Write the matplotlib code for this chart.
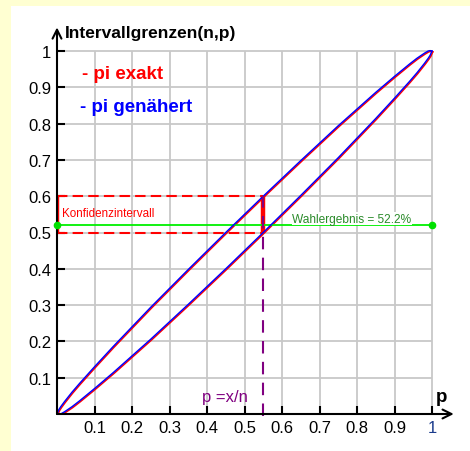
import matplotlib.pyplot as plt
import matplotlib.transforms as mtransforms

plt.rcParams['font.family'] = ['Liberation Sans', 'DejaVu Sans']

p_werte = [0, 0.005, 0.01, 0.02, 0.04, 0.06, 0.08, 0.1, 0.15, 0.2, 0.25, 0.3, 0.35,
           0.4, 0.45, 0.5, 0.55, 0.6, 0.65, 0.7, 0.75, 0.8, 0.85, 0.9, 0.92, 0.94,
           0.96, 0.98, 0.99, 0.995, 1]
grenze_oben = [0, 0.012, 0.020, 0.034, 0.060, 0.084, 0.107, 0.130, 0.186, 0.240, 0.294,
               0.346, 0.398, 0.449, 0.500, 0.550, 0.600, 0.649, 0.698, 0.746, 0.794,
               0.840, 0.886, 0.930, 0.947, 0.964, 0.980, 0.994, 1.000, 1.001, 1]
grenze_unten = [0, 0.000, 0.000, 0.006, 0.020, 0.036, 0.053, 0.070, 0.114, 0.160, 0.206,
                0.254, 0.302, 0.351, 0.400, 0.450, 0.500, 0.551, 0.602, 0.654, 0.706,
                0.760, 0.814, 0.870, 0.893, 0.916, 0.940, 0.966, 0.980, 0.988, 1]

p_beob = 0.55
intervall = [0.5, 0.6]
wahlergebnis = 0.522
ticks = [0.1, 0.2, 0.3, 0.4, 0.5, 0.6, 0.7, 0.8, 0.9, 1.0]
tick_labels = ["0.1", "0.2", "0.3", "0.4", "0.5", "0.6", "0.7", "0.8", "0.9", "1"]

W, H = 470, 452
fig = plt.figure(figsize=(W / 100, H / 100), dpi=100, facecolor='#ffffd2')
bg = plt.Rectangle((11 / W, 0), 1, 1 - 7 / H, transform=fig.transFigure,
                   facecolor='white', edgecolor='none', zorder=-10)
fig.add_artist(bg)

# Achsen so legen, dass 0 -> px 57 / 415, 1 -> px 432 / 52
sx, sy = 375, 363
ax = fig.add_axes([57 / W, 37 / H, 403 / W, 390 / H])
ax.set_xlim(0, 403 / sx)
ax.set_ylim(0, 390 / sy)
ax.patch.set_alpha(0)
for s in ax.spines.values():
    s.set_visible(False)

# Gitter
ax.vlines(ticks, 0, 1, color='#c8c8c8', lw=1.3, zorder=1)
ax.hlines(ticks, 0, 1, color='#c8c8c8', lw=1.3, zorder=1)

ax.set_xticks(ticks, tick_labels)
ax.set_yticks(ticks, tick_labels)
ax.tick_params(direction='in', length=6, width=1.5, labelsize=12, pad=4)
ax.get_xticklabels()[-1].set_color('#1c3c8c')

# Achsenpfeile
arr = dict(arrowstyle='->', lw=1.5, color='black', mutation_scale=16, shrinkA=0, shrinkB=0)
ax.annotate('', xy=(1.058, 0), xytext=(0, 0), arrowprops=arr, annotation_clip=False, zorder=6)
ax.annotate('', xy=(0, 1.065), xytext=(0, 0), arrowprops=arr, annotation_clip=False, zorder=6)

# Kurven: exakt (rot) minimal versetzt unter genähert (blau)
off = mtransforms.offset_copy(ax.transData, fig=fig, x=0.8, y=-0.8, units='dots')
ax.plot(p_werte, grenze_oben, color='red', lw=1.1, transform=off, zorder=3)
ax.plot(p_werte, grenze_unten, color='red', lw=1.1, transform=off, zorder=3)
ax.plot(p_werte, grenze_oben, color='blue', lw=1.05, zorder=4)
ax.plot(p_werte, grenze_unten, color='blue', lw=1.05, zorder=4)

# Konfidenzintervall
ax.plot([0, p_beob], [intervall[1]] * 2, color='red', lw=1.5, dashes=(5, 2.5), zorder=3)
ax.plot([0, p_beob], [intervall[0]] * 2, color='red', lw=1.5, dashes=(5, 2.5), zorder=3)
ax.plot([0, 0], intervall, color='red', lw=3.2, zorder=5, solid_capstyle='butt')
ax.plot([p_beob, p_beob], intervall, color='red', lw=3.2, zorder=3, solid_capstyle='butt')
ax.plot([p_beob, p_beob], [-0.006, intervall[1]], color='purple', lw=1.5,
        dashes=(6, 4), zorder=4, clip_on=False)

# Wahlergebnis
ax.plot([0, 1], [wahlergebnis] * 2, color='#00f000', lw=1.3, zorder=3)
ax.plot([0, 1], [wahlergebnis] * 2, 'o', color='#00e000', ms=4.5, zorder=6, clip_on=False)
ax.text(0.628, 0.538, "Wahlergebnis = 52.2%", color='#2a8a2a', fontsize=8.6,
        va='center', ha='left', zorder=5,
        bbox=dict(facecolor='white', edgecolor='none', pad=0.5))
ax.text(0.013, 0.553, "Konfidenzintervall", color='red', fontsize=8.4, va='center', ha='left')

ax.text(0.448, 0.048, "p =x/n", color='purple', fontsize=12, ha='center', va='center')
ax.text(0.068, 0.937, "- pi exakt", color='red', fontsize=13.5, fontweight='bold', va='center')
ax.text(0.061, 0.846, "- pi genähert", color='blue', fontsize=13.5, fontweight='bold', va='center')

ax.text(0.022, 1.05, "Intervallgrenzen(n,p)", fontsize=12.5, fontweight='bold', va='center')
ax.text(1.01, 0.047, "p", fontsize=13.5, fontweight='bold', va='center')

fig.savefig('out.png', dpi=100, facecolor=fig.get_facecolor())
